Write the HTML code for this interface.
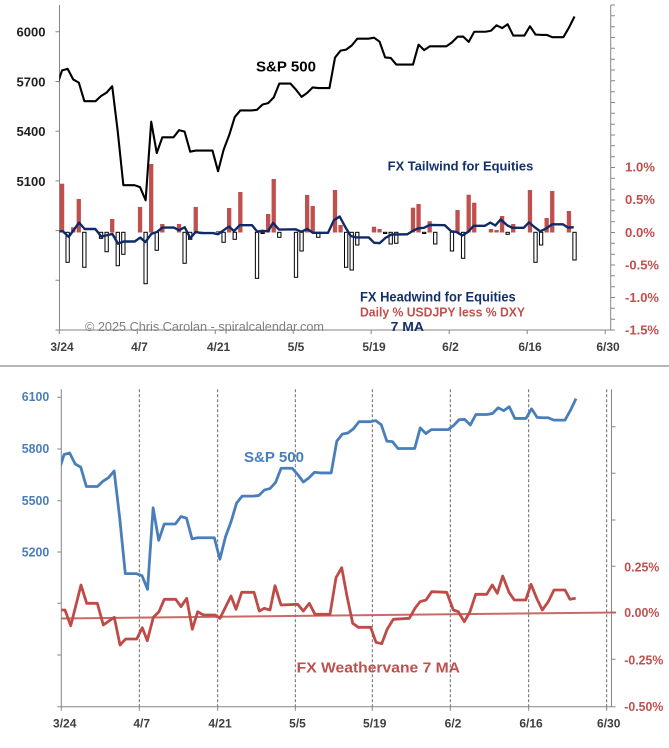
<!DOCTYPE html>
<html><head><meta charset="utf-8"><style>
html,body{margin:0;padding:0;background:#fff}
svg{display:block}
text{font-family:"Liberation Sans",Arial,sans-serif;font-weight:bold}
</style></head><body>
<svg width="669" height="748" viewBox="0 0 669 748" xmlns="http://www.w3.org/2000/svg">
<defs>
<clipPath id="ct"><rect x="59.3" y="0" width="552" height="340"/></clipPath>
<clipPath id="cb"><rect x="61.3" y="380" width="552" height="340"/></clipPath>
</defs>
<rect width="669" height="748" fill="#fff"/>

<!-- ================= TOP CHART ================= -->
<g stroke="#868686" stroke-width="1" fill="none">
<line x1="59.5" y1="5" x2="59.5" y2="330"/>
<line x1="55.5" y1="330" x2="610.7" y2="330"/>
<line x1="610.7" y1="5" x2="610.7" y2="330"/>
<path d="M55.5 31.8H59.5M55.5 81.5H59.5M55.5 131.2H59.5M55.5 180.9H59.5M55.5 230.6H59.5M55.5 280.3H59.5"/>
<path d="M59.3 330V334M137.3 330V334M215.3 330V334M293.2 330V334M371.2 330V334M449.2 330V334M527.2 330V334M605.2 330V334"/>
<path d="M610.7 330H615M610.7 319.2H615M610.7 308.3H615M610.7 297.5H615M610.7 286.7H615M610.7 275.8H615M610.7 265H615M610.7 254.2H615M610.7 243.3H615M610.7 232.5H615M610.7 221.7H615M610.7 210.8H615M610.7 200H615M610.7 189.2H615M610.7 178.3H615M610.7 167.5H615M610.7 156.7H615M610.7 145.8H615M610.7 135H615M610.7 124.2H615M610.7 113.3H615M610.7 102.5H615M610.7 91.7H615M610.7 80.8H615M610.7 70H615M610.7 59.2H615M610.7 48.3H615M610.7 37.5H615M610.7 26.7H615M610.7 15.8H615M610.7 5H615"/>
</g>

<!-- bars -->
<g fill="#c0504d">
<rect x="59.92" y="183.7" width="4.3" height="48.8"/>
<rect x="71.06" y="227.3" width="4.3" height="5.2"/>
<rect x="76.63" y="199" width="4.3" height="33.5"/>
<rect x="110.05" y="219" width="4.3" height="13.5"/>
<rect x="137.90" y="207" width="4.3" height="25.5"/>
<rect x="149.04" y="164" width="4.3" height="68.5"/>
<rect x="160.18" y="224" width="4.3" height="8.5"/>
<rect x="176.89" y="224" width="4.3" height="8.5"/>
<rect x="193.60" y="207" width="4.3" height="25.5"/>
<rect x="215.88" y="231" width="4.3" height="1.5"/>
<rect x="227.02" y="208" width="4.3" height="24.5"/>
<rect x="238.16" y="192" width="4.3" height="40.5"/>
<rect x="266.01" y="214" width="4.3" height="18.5"/>
<rect x="271.58" y="179" width="4.3" height="53.5"/>
<rect x="305.00" y="195" width="4.3" height="37.5"/>
<rect x="310.57" y="206" width="4.3" height="26.5"/>
<rect x="332.85" y="190" width="4.3" height="42.5"/>
<rect x="338.42" y="225" width="4.3" height="7.5"/>
<rect x="371.84" y="226.7" width="4.3" height="5.8"/>
<rect x="377.41" y="229" width="4.3" height="3.5"/>
<rect x="410.83" y="207.7" width="4.3" height="24.8"/>
<rect x="416.40" y="204" width="4.3" height="28.5"/>
<rect x="427.54" y="221.3" width="4.3" height="11.2"/>
<rect x="455.39" y="210" width="4.3" height="22.5"/>
<rect x="466.53" y="194.7" width="4.3" height="37.8"/>
<rect x="472.10" y="202.7" width="4.3" height="29.8"/>
<rect x="488.81" y="229" width="4.3" height="3.5"/>
<rect x="494.38" y="230" width="4.3" height="2.5"/>
<rect x="499.95" y="216" width="4.3" height="16.5"/>
<rect x="511.09" y="224" width="4.3" height="8.5"/>
<rect x="527.80" y="190" width="4.3" height="42.5"/>
<rect x="544.51" y="218" width="4.3" height="14.5"/>
<rect x="550.08" y="191" width="4.3" height="41.5"/>
<rect x="566.79" y="211" width="4.3" height="21.5"/>
</g>
<g fill="#fff" stroke="#000" stroke-width="1">
<rect x="65.99" y="232.3" width="3.3" height="30"/>
<rect x="82.70" y="232.3" width="3.3" height="35"/>
<rect x="99.41" y="232.3" width="3.3" height="6"/>
<rect x="104.98" y="232.3" width="3.3" height="19.4"/>
<rect x="116.12" y="232.3" width="3.3" height="33.4"/>
<rect x="121.69" y="232.3" width="3.3" height="22"/>
<rect x="143.97" y="232.3" width="3.3" height="51.4"/>
<rect x="155.11" y="232.3" width="3.3" height="18"/>
<rect x="182.96" y="232.3" width="3.3" height="31"/>
<rect x="188.53" y="232.3" width="3.3" height="7"/>
<rect x="199.67" y="232.3" width="3.3" height="1.2"/>
<rect x="221.95" y="232.3" width="3.3" height="10"/>
<rect x="233.09" y="232.3" width="3.3" height="7"/>
<rect x="255.37" y="232.3" width="3.3" height="46"/>
<rect x="260.94" y="232.3" width="3.3" height="1.2"/>
<rect x="277.65" y="232.3" width="3.3" height="5"/>
<rect x="294.36" y="232.3" width="3.3" height="45"/>
<rect x="299.93" y="232.3" width="3.3" height="18.7"/>
<rect x="316.64" y="232.3" width="3.3" height="5"/>
<rect x="344.49" y="232.3" width="3.3" height="35"/>
<rect x="350.06" y="232.3" width="3.3" height="37.7"/>
<rect x="355.63" y="232.3" width="3.3" height="12.7"/>
<rect x="383.48" y="232.3" width="3.3" height="1.2"/>
<rect x="389.05" y="232.3" width="3.3" height="11.7"/>
<rect x="394.62" y="232.3" width="3.3" height="11"/>
<rect x="422.47" y="232.3" width="3.3" height="1.2"/>
<rect x="433.61" y="232.3" width="3.3" height="11.7"/>
<rect x="450.32" y="232.3" width="3.3" height="18.7"/>
<rect x="461.46" y="232.3" width="3.3" height="26"/>
<rect x="506.02" y="232.3" width="3.3" height="2"/>
<rect x="533.87" y="232.3" width="3.3" height="30"/>
<rect x="539.44" y="232.3" width="3.3" height="12.7"/>
<rect x="572.86" y="232.3" width="3.3" height="27.7"/>
</g>

<!-- navy 7MA (top) -->
<g clip-path="url(#ct)">
<polyline transform="matrix(1 0 0 0.35014 -2 17.77)" vector-effect="non-scaling-stroke" fill="none" stroke="#0f2a66" stroke-width="2.4" stroke-linejoin="round"
points="61.3,610 65,610 70.7,625.7 76,605 81,585 86.7,603.3 97.3,603.3 103.3,625 109.3,620.7 114.3,617.3 120,645 125.7,639 136.7,639 142.3,627.7 147.3,640.7 153.3,617.3 159,611.7 164.3,599.3 175.7,599.3 181,606.7 186.7,598.3 192.3,629.3 197.7,611.7 203.3,615 215,615 220,618.3 225.7,606.7 231,596 236,609.3 241.7,592.3 254,592.3 259.3,611 264.3,608.3 270,610 275,585.7 281,605 297.7,604.3 303.3,611 309.3,603.3 315,614.3 330,614.3 336,577.7 341.7,567.7 347.3,597.7 352.7,623.3 358.3,627.3 370.7,627.3 376,642.3 381.7,643.7 387.3,629 393.3,619.3 409.3,618.3 415,608.3 420,601.7 426,600 431.7,591.7 446.7,592.3 453.3,610 458.3,611.7 464.3,621.7 470,611.7 475.7,594.3 486.7,594.3 492.3,585 497.3,593.3 502.7,576 509,592.3 514.3,600 525.7,600 531,584.3 536.7,598.3 542.3,610 548.3,601.7 554,590 565,590 570,599.3 575.7,598.3"/>
<!-- S&P top -->
<polyline transform="matrix(5.57 0 0 -0.1657 62.085 1025.94)" vector-effect="non-scaling-stroke" fill="none" stroke="#000" stroke-width="2.1" stroke-linejoin="round"
points="-1,5667 0,5767 1,5776 2,5712 3,5693 4,5581 5,5581 6,5581 7,5612 8,5633 9,5671 10,5396 11,5074 12,5074 13,5074 14,5062 15,4983 16,5457 17,5268 18,5363 19,5363 20,5363 21,5406 22,5397 23,5276 24,5283 25,5283 26,5283 27,5283 28,5158 29,5288 30,5376 31,5485 32,5525 33,5525 34,5525 35,5529 36,5561 37,5569 38,5604 39,5687 40,5687 41,5687 42,5650 43,5607 44,5631 45,5664 46,5660 47,5660 48,5660 49,5844 50,5886 51,5892 52,5917 53,5958 54,5958 55,5958 56,5964 57,5940 58,5845 59,5842 60,5802 61,5802 62,5802 63,5802 64,5922 65,5889 66,5912 67,5912 68,5912 69,5912 70,5936 71,5970 72,5971 73,5939 74,6000 75,6000 76,6000 77,6006 78,6039 79,6022 80,6045 81,5977 82,5977 83,5977 84,6033 85,5983 86,5981 87,5981 88,5967 89,5967 90,5967 91,6025 92,6092"/>
</g>

<!-- top texts -->
<g font-size="12.5" fill="#222" text-anchor="end">
<text x="45.5" y="36.5" textLength="29" lengthAdjust="spacingAndGlyphs">6000</text>
<text x="45.5" y="86.3" textLength="29" lengthAdjust="spacingAndGlyphs">5700</text>
<text x="45.5" y="135.8" textLength="29" lengthAdjust="spacingAndGlyphs">5400</text>
<text x="45.5" y="186" textLength="29" lengthAdjust="spacingAndGlyphs">5100</text>
</g>
<g font-size="12.5" fill="#c0504d">
<text x="625" y="171.5" textLength="30" lengthAdjust="spacingAndGlyphs">1.0%</text>
<text x="625" y="203.8" textLength="30" lengthAdjust="spacingAndGlyphs">0.5%</text>
<text x="625" y="236.8" textLength="30" lengthAdjust="spacingAndGlyphs">0.0%</text>
<text x="625" y="269.5" textLength="34" lengthAdjust="spacingAndGlyphs">-0.5%</text>
<text x="625" y="302.2" textLength="34" lengthAdjust="spacingAndGlyphs">-1.0%</text>
<text x="625" y="334.5" textLength="34" lengthAdjust="spacingAndGlyphs">-1.5%</text>
</g>
<g font-size="12" fill="#404040" text-anchor="middle">
<text x="62" y="351">3/24</text>
<text x="139.5" y="351">4/7</text>
<text x="218.5" y="351">4/21</text>
<text x="296" y="351">5/5</text>
<text x="374" y="351">5/19</text>
<text x="450.5" y="351">6/2</text>
<text x="530" y="351">6/16</text>
<text x="608" y="351">6/30</text>
</g>
<text x="256" y="71.5" font-size="15" fill="#000" textLength="60" lengthAdjust="spacingAndGlyphs">S&amp;P 500</text>
<text x="387.7" y="170.5" font-size="12.5" fill="#13306a" textLength="145.6" lengthAdjust="spacingAndGlyphs">FX Tailwind for Equities</text>
<text x="360" y="301.5" font-size="13.5" fill="#13306a" textLength="155.7" lengthAdjust="spacingAndGlyphs">FX Headwind for Equities</text>
<text x="360" y="316.3" font-size="13" fill="#c0504d" textLength="165" lengthAdjust="spacingAndGlyphs">Daily % USDJPY less % DXY</text>
<text x="390.7" y="331.2" font-size="13" fill="#13306a" textLength="33.3" lengthAdjust="spacingAndGlyphs">7 MA</text>
<text x="85" y="331" font-size="13" fill="#7f7f7f" style="font-weight:normal" textLength="239" lengthAdjust="spacingAndGlyphs">© 2025 Chris Carolan - spiralcalendar.com</text>

<!-- separator -->
<line x1="0" y1="366" x2="669" y2="366" stroke="#8a8a8a" stroke-width="1.2"/>

<!-- ================= BOTTOM CHART ================= -->
<g stroke="#595959" stroke-width="0.9" stroke-dasharray="3,2" fill="none">
<line x1="139.3" y1="389.3" x2="139.3" y2="706.7"/>
<line x1="217.7" y1="389.3" x2="217.7" y2="706.7"/>
<line x1="295.3" y1="389.3" x2="295.3" y2="706.7"/>
<line x1="372.3" y1="389.3" x2="372.3" y2="706.7"/>
<line x1="450.3" y1="389.3" x2="450.3" y2="706.7"/>
<line x1="528.7" y1="389.3" x2="528.7" y2="706.7"/>
<line x1="606.7" y1="389.3" x2="606.7" y2="706.7"/>
</g>
<g stroke="#868686" stroke-width="1" fill="none">
<line x1="61.3" y1="389.3" x2="61.3" y2="706.7"/>
<line x1="611.5" y1="389.3" x2="611.5" y2="706.7"/>
<line x1="57.3" y1="706.7" x2="611.5" y2="706.7"/>
<path d="M57.3 397.3H61.3M57.3 449H61.3M57.3 500.7H61.3M57.3 552H61.3M57.3 603.3H61.3M57.3 655H61.3"/>
<path d="M611.5 426.7H615.5M611.5 473.3H615.5M611.5 520H615.5M611.5 566.3H615.5M611.5 612.7H615.5M611.5 659.3H615.5M611.5 706.7H615.5"/>
<path d="M61.3 706.7V710.7M139.3 706.7V710.7M217.7 706.7V710.7M295.3 706.7V710.7M372.3 706.7V710.7M450.3 706.7V710.7M528.7 706.7V710.7M606.7 706.7V710.7"/>
</g>
<line x1="61.3" y1="618.5" x2="616" y2="612.5" stroke="#c0504d" stroke-opacity="0.85" stroke-width="2"/>
<g clip-path="url(#cb)">
<polyline fill="none" stroke="#be4b48" stroke-width="2.8" stroke-linejoin="round"
points="61.3,610 65,610 70.7,625.7 76,605 81,585 86.7,603.3 97.3,603.3 103.3,625 109.3,620.7 114.3,617.3 120,645 125.7,639 136.7,639 142.3,627.7 147.3,640.7 153.3,617.3 159,611.7 164.3,599.3 175.7,599.3 181,606.7 186.7,598.3 192.3,629.3 197.7,611.7 203.3,615 215,615 220,618.3 225.7,606.7 231,596 236,609.3 241.7,592.3 254,592.3 259.3,611 264.3,608.3 270,610 275,585.7 281,605 297.7,604.3 303.3,611 309.3,603.3 315,614.3 330,614.3 336,577.7 341.7,567.7 347.3,597.7 352.7,623.3 358.3,627.3 370.7,627.3 376,642.3 381.7,643.7 387.3,629 393.3,619.3 409.3,618.3 415,608.3 420,601.7 426,600 431.7,591.7 446.7,592.3 453.3,610 458.3,611.7 464.3,621.7 470,611.7 475.7,594.3 486.7,594.3 492.3,585 497.3,593.3 502.7,576 509,592.3 514.3,600 525.7,600 531,584.3 536.7,598.3 542.3,610 548.3,601.7 554,590 565,590 570,599.3 575.7,598.3"/>
<polyline transform="matrix(5.565 0 0 -0.1719 64.08 1445.87)" vector-effect="non-scaling-stroke" fill="none" stroke="#4a7ebb" stroke-width="2.8" stroke-linejoin="round"
points="-1,5667 0,5767 1,5776 2,5712 3,5693 4,5581 5,5581 6,5581 7,5612 8,5633 9,5671 10,5396 11,5074 12,5074 13,5074 14,5062 15,4983 16,5457 17,5268 18,5363 19,5363 20,5363 21,5406 22,5397 23,5276 24,5283 25,5283 26,5283 27,5283 28,5158 29,5288 30,5376 31,5485 32,5525 33,5525 34,5525 35,5529 36,5561 37,5569 38,5604 39,5687 40,5687 41,5687 42,5650 43,5607 44,5631 45,5664 46,5660 47,5660 48,5660 49,5844 50,5886 51,5892 52,5917 53,5958 54,5958 55,5958 56,5964 57,5940 58,5845 59,5842 60,5802 61,5802 62,5802 63,5802 64,5922 65,5889 66,5912 67,5912 68,5912 69,5912 70,5936 71,5970 72,5971 73,5939 74,6000 75,6000 76,6000 77,6006 78,6039 79,6022 80,6045 81,5977 82,5977 83,5977 84,6033 85,5983 86,5981 87,5981 88,5967 89,5967 90,5967 91,6025 92,6092"/>
</g>

<!-- bottom texts -->
<g font-size="12.5" fill="#4a7ebb" text-anchor="end">
<text x="49.3" y="401.2" textLength="27.5" lengthAdjust="spacingAndGlyphs">6100</text>
<text x="49.3" y="453.2" textLength="27.5" lengthAdjust="spacingAndGlyphs">5800</text>
<text x="49.3" y="504.8" textLength="27.5" lengthAdjust="spacingAndGlyphs">5500</text>
<text x="49.3" y="556.5" textLength="27.5" lengthAdjust="spacingAndGlyphs">5200</text>
</g>
<g font-size="12.5" fill="#c0504d">
<text x="624.3" y="571.5" textLength="35" lengthAdjust="spacingAndGlyphs">0.25%</text>
<text x="624.3" y="617.2" textLength="35" lengthAdjust="spacingAndGlyphs">0.00%</text>
<text x="624.3" y="664.3" textLength="39" lengthAdjust="spacingAndGlyphs">-0.25%</text>
<text x="624.3" y="711" textLength="39" lengthAdjust="spacingAndGlyphs">-0.50%</text>
</g>
<g font-size="12" fill="#404040" text-anchor="middle">
<text x="64.7" y="727.5">3/24</text>
<text x="141.7" y="727.5">4/7</text>
<text x="220" y="727.5">4/21</text>
<text x="297.5" y="727.5">5/5</text>
<text x="374.7" y="727.5">5/19</text>
<text x="453" y="727.5">6/2</text>
<text x="531" y="727.5">6/16</text>
<text x="608.7" y="727.5">6/30</text>
</g>
<text x="244" y="462" font-size="15" fill="#4a7ebb" textLength="60" lengthAdjust="spacingAndGlyphs">S&amp;P 500</text>
<text x="296.7" y="672.7" font-size="15" fill="#c0504d" textLength="163.3" lengthAdjust="spacingAndGlyphs">FX Weathervane 7 MA</text>
</svg>
</body></html>
